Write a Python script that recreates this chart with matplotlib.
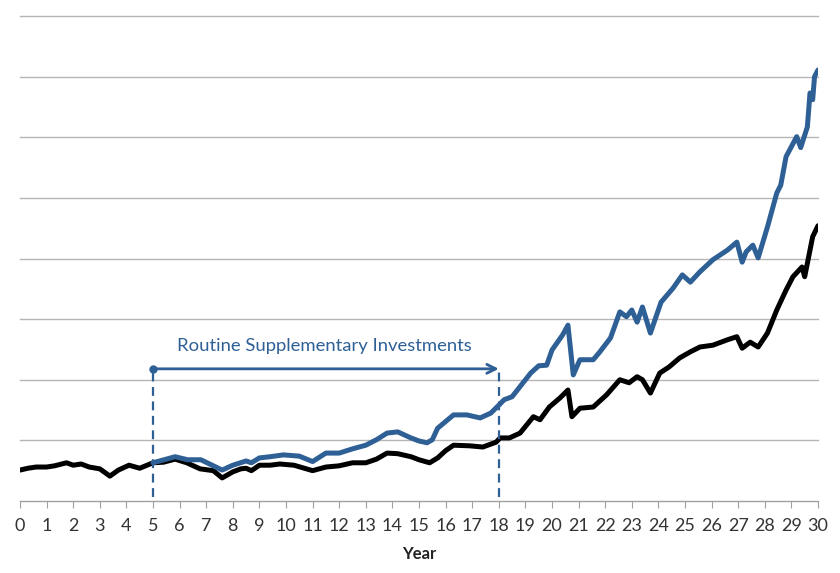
import matplotlib
matplotlib.use("Agg")
import matplotlib.pyplot as plt

# ---- data (value in grid units) ----
black_years = [0.0, 0.3, 0.6, 1.0, 1.3, 1.75, 2.0, 2.3, 2.6, 3.0, 3.38, 3.7, 4.1, 4.5, 5.0,
               5.4, 5.83, 6.27, 6.77, 7.27, 7.6, 8.0, 8.3, 8.5, 8.7, 9.0, 9.4, 9.77, 10.3,
               11.0, 11.5, 12.0, 12.5, 13.0, 13.4, 13.8, 14.2, 14.7, 15.0, 15.4, 15.7, 16.0,
               16.3, 16.9, 17.4, 17.9, 18.05, 18.4, 18.8, 19.3, 19.55, 19.9, 20.3, 20.6,
               20.75, 21.05, 21.55, 22.05, 22.55, 22.9, 23.2, 23.4, 23.7, 24.05, 24.4, 24.8,
               25.2, 25.56, 26.05, 26.6, 26.95, 27.15, 27.45, 27.75, 28.1, 28.45, 28.8,
               29.06, 29.4, 29.5, 29.7, 29.8, 30.0]
black_values = [0.51, 0.54, 0.56, 0.56, 0.58, 0.63, 0.59, 0.61, 0.56, 0.53, 0.41, 0.51, 0.59,
                0.54, 0.63, 0.64, 0.69, 0.63, 0.53, 0.50, 0.38, 0.48, 0.53, 0.54, 0.50, 0.59,
                0.59, 0.61, 0.59, 0.50, 0.56, 0.58, 0.63, 0.63, 0.69, 0.79, 0.78, 0.73, 0.68,
                0.63, 0.71, 0.83, 0.92, 0.91, 0.89, 0.97, 1.04, 1.04, 1.12, 1.39, 1.34, 1.55,
                1.70, 1.83, 1.39, 1.53, 1.55, 1.75, 2.00, 1.95, 2.05, 2.00, 1.78, 2.11, 2.21,
                2.36, 2.46, 2.54, 2.57, 2.66, 2.71, 2.52, 2.62, 2.54, 2.77, 3.15, 3.48, 3.70,
                3.86, 3.70, 4.14, 4.36, 4.54]

blue_years = [5.0, 5.83, 6.3, 6.8, 7.27, 7.6, 8.0, 8.5, 8.7, 9.0, 9.4, 9.9, 10.5, 11.0, 11.5,
              12.0, 12.5, 13.0, 13.4, 13.8, 14.2, 14.7, 15.0, 15.3, 15.5, 15.7, 16.3, 16.8,
              17.3, 17.7, 18.0, 18.2, 18.5, 19.2, 19.5, 19.8, 20.0, 20.4, 20.6, 20.8, 21.05,
              21.55, 21.8, 22.2, 22.55, 22.8, 23.0, 23.2, 23.4, 23.7, 24.1, 24.55, 24.9, 25.2,
              25.56, 26.05, 26.6, 26.95, 27.15, 27.3, 27.55, 27.75, 28.1, 28.45, 28.6, 28.8,
              29.2, 29.35, 29.6, 29.7, 29.8, 29.87, 30.0]
blue_values = [0.63, 0.73, 0.68, 0.68, 0.58, 0.51, 0.59, 0.66, 0.63, 0.71, 0.73, 0.76, 0.74,
               0.65, 0.79, 0.79, 0.86, 0.92, 1.01, 1.12, 1.14, 1.04, 0.99, 0.96, 1.01, 1.20,
               1.42, 1.42, 1.37, 1.45, 1.58, 1.67, 1.72, 2.11, 2.23, 2.24, 2.49, 2.74, 2.90,
               2.08, 2.33, 2.33, 2.46, 2.69, 3.12, 3.04, 3.15, 2.95, 3.20, 2.77, 3.28, 3.51,
               3.73, 3.61, 3.78, 3.98, 4.14, 4.27, 3.94, 4.11, 4.22, 4.01, 4.52, 5.08, 5.21,
               5.68, 6.01, 5.83, 6.17, 6.73, 6.62, 7.00, 7.11]

x_ticks = list(range(0, 31))
x_label = "Year"
period_start, period_end = 5, 18
period_label = "Routine Supplementary Investments"

BLUE = "#2e6096"

fig = plt.figure(figsize=(8.4, 5.73), dpi=100)
ax = fig.add_axes([0.0238, 0.1257, 0.95, 0.8463])
ax.set_xlim(0, 30)
ax.set_ylim(0, 8)

for g in range(1, 9):
    ax.axhline(g, color="#b5b5b5", lw=1.0, zorder=0, clip_on=False)

ax.plot(black_years, black_values, color="black", lw=3.6, solid_joinstyle="round",
        solid_capstyle="round", zorder=3)
ax.plot(blue_years, blue_values, color=BLUE, lw=3.6, solid_joinstyle="round",
        solid_capstyle="round", zorder=4)

# dashed period markers
for xv in (period_start, period_end):
    ax.plot([xv, xv], [0.07, 2.13], color=BLUE, lw=1.6, ls=(0, (4, 2.5)), zorder=5)

ax.annotate("", xy=(period_end, 2.18), xytext=(period_start, 2.18),
            arrowprops=dict(arrowstyle="->", color=BLUE, lw=2.0, mutation_scale=16,
                            shrinkA=0, shrinkB=0), zorder=6)
ax.plot([period_start], [2.18], "o", color=BLUE, ms=5, zorder=6)
ax.text((period_start + period_end) / 2 - 0.05, 2.56, period_label, color=BLUE,
        fontsize=13.3, family="Lato", ha="center", va="center")

for s in ("top", "right", "left"):
    ax.spines[s].set_visible(False)
ax.spines["bottom"].set_color("#a0a0a0")
ax.spines["bottom"].set_linewidth(1.0)
ax.set_yticks([])
ax.set_xticks(x_ticks)
ax.set_xticklabels([str(t) for t in x_ticks], fontsize=13, family="Lato", color="#333333")
ax.tick_params(axis="x", direction="out", length=5, color="#a0a0a0", pad=7)
ax.set_xlabel(x_label, fontsize=12, family="Lato", fontweight="bold", color="#222222",
              labelpad=9)

fig.savefig("out.png", dpi=100, facecolor="white")
